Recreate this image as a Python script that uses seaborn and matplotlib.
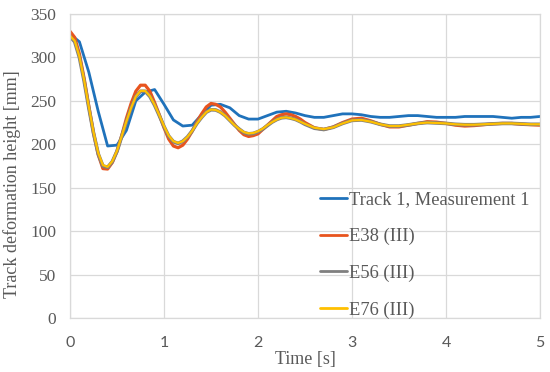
import matplotlib
matplotlib.use('Agg')
import matplotlib.pyplot as plt
import seaborn as sns
import numpy as np
import pandas as pd

# ── data ──
t_meas = np.round(np.arange(0, 5.01, 0.1), 2)
track1 = [327, 318, 283, 238, 198, 199, 216, 250, 260, 263,
          246, 228, 221, 222, 234, 245, 246, 242, 233, 229,
          229, 233, 237, 238, 236, 233, 231, 231, 233, 235,
          235, 234, 232, 231, 231, 232, 233, 233, 232, 231,
          231, 231, 232, 232, 232, 232, 231, 230, 231, 231, 232]

t_sim = np.round(np.concatenate([np.arange(0, 2.51, 0.05),
                                 np.arange(2.6, 5.01, 0.1)]), 2)
e38 = [330, 323, 304, 276, 244, 213, 188, 172, 171.5, 179,
       192, 210, 230, 247, 261, 268, 268, 261, 248, 234,
       219, 206, 198, 196, 199, 206, 215, 226, 235, 243,
       247, 246, 243, 237, 230, 223, 216, 211, 209, 210,
       212, 217, 222, 227, 232, 234, 235, 234, 232, 229, 225,
       219, 217, 220, 225, 229, 230, 227, 223, 220, 220,
       222, 224, 226, 225.5, 224, 222, 221, 221.5, 222.5, 223.5,
       224, 224, 223, 222.5, 222]
e56 = [324, 318, 300, 273, 242, 213, 189, 175, 173.5, 180,
       192, 209, 226, 242, 255, 261, 261, 255, 245, 233,
       220.5, 209.5, 203, 201, 203.5, 208.5, 215.5, 224, 231, 237,
       239.7, 239.5, 237, 233, 227.5, 222, 217.5, 213.5, 212, 212.5,
       214.5, 217.5, 221.5, 225.5, 228.5, 230.5, 231, 230, 228.5, 226, 223,
       218.5, 217, 219.5, 224, 227.5, 228, 226, 223, 221, 221,
       222.3, 224, 225, 224.5, 224, 223, 222.5, 222.5, 223, 223.5,
       224, 224, 223.5, 223, 223]
e76 = [325, 319, 301, 274, 243, 214, 190, 176, 174, 180.5,
       192.5, 209.5, 226.5, 242, 255, 261.5, 261.5, 255.5, 245.5, 233.5,
       221, 210, 203.5, 201.5, 203.5, 208.5, 215.5, 224, 231, 237,
       240, 239.5, 237, 233, 227.5, 222, 217.5, 214, 212.5, 213,
       215, 218, 222, 225.5, 228.5, 230.5, 231, 230, 228.5, 226, 223.5,
       219, 217.5, 219.5, 224, 227.5, 228, 226, 223, 221, 221,
       222.5, 224, 225, 224.5, 224, 223, 222.5, 222.5, 223, 223.5,
       224, 224, 223.5, 223, 223]

labels = ['Track 1, Measurement 1', 'E38 (III)', 'E56 (III)', 'E76 (III)']
colors = ['#1f72bb', '#e8541e', '#7f7f7f', '#ffc000']
widths = [2.0, 2.3, 2.6, 1.6]

sns.set_style('whitegrid')
plt.rcParams['font.family'] = ['Liberation Serif', 'DejaVu Serif']

fig = plt.figure(figsize=(5.5, 3.72), dpi=100)
ax = fig.add_axes([0.1273, 0.1452, 0.8545, 0.8172])

series = [(t_meas, track1), (t_sim, e38), (t_sim, e56), (t_sim, e76)]
for (tt, vv), lab, col, lw in zip(series, labels, colors, widths):
    df = pd.DataFrame({'t': tt, 'v': vv})
    sns.lineplot(data=df, x='t', y='v', ax=ax, color=col, linewidth=lw,
                 label=lab)

ax.set_xlim(0, 5)
ax.set_ylim(0, 350)
ax.set_xticks(range(0, 6))
ax.set_yticks(range(0, 351, 50))
ax.grid(True, color='#d9d9d9', linewidth=0.9)
for s in ax.spines.values():
    s.set_edgecolor('#d9d9d9')
    s.set_linewidth(0.9)

ax.tick_params(axis='y', labelsize=12.5, colors='#595959', pad=10, length=0)
ax.tick_params(axis='x', labelsize=11.5, colors='#595959', pad=13, length=0)
for lbl in ax.get_xticklabels():
    lbl.set_family('Lato')

ax.set_xlabel('Time [s]', fontsize=13, color='#595959')
ax.set_ylabel('Track deformation height [mm]', fontsize=13, color='#595959')
ax.xaxis.set_label_coords(0.5, -0.108)
ax.yaxis.set_label_coords(-0.104, 0.44)

leg = ax.legend(loc='center left', bbox_to_anchor=(0.5655, 0.3145),
                bbox_transform=fig.transFigure, frameon=False,
                fontsize=13.3, handlelength=1.45, handletextpad=0.1,
                labelspacing=1.05, borderpad=0)
for txt in leg.get_texts():
    txt.set_color('#595959')
for h in leg.get_lines():
    h.set_linewidth(2.0)

fig.savefig('out.png', dpi=100)
